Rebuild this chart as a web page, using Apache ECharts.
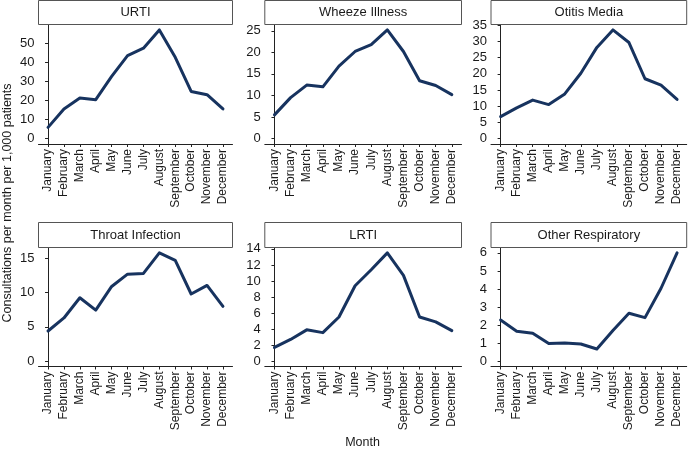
<!DOCTYPE html>
<html>
<head>
<meta charset="utf-8">
<script src="https://cdn.jsdelivr.net/npm/echarts@6/dist/echarts.min.js"></script>
<style>html,body{margin:0;padding:0;background:#fff}#c{width:688px;height:453px}</style>
</head>
<body>
<div id="c"></div>
<script>
var months = ["January","February","March","April","May","June","July","August","September","October","November","December"];
var panelTitles = ["URTI","Wheeze Illness","Otitis Media","Throat Infection","LRTI","Other Respiratory"];
var urti = [5.9,15.6,21.3,20.5,32.7,43.7,47.6,57.2,42.8,24.8,23.1,15.6];
var wheeze = [5.5,9.5,12.4,12.0,16.8,20.2,21.8,25.2,20.2,13.4,12.3,10.2];
var otitis = [6.8,9.5,11.9,10.5,13.8,20.2,28.2,33.6,29.7,18.5,16.5,12.1];
var throat = [4.4,6.3,9.25,7.45,10.9,12.7,12.8,15.8,14.7,9.8,11.05,8.0];
var lrti = [1.7,2.7,3.9,3.55,5.5,9.4,11.4,13.5,10.7,5.5,4.9,3.8];
var other = [2.28,1.66,1.55,0.97,1.0,0.95,0.67,1.7,2.65,2.41,4.04,6.0];
var yTicks = [
  [0,10,20,30,40,50],
  [0,5,10,15,20,25],
  [0,5,10,15,20,25,30,35],
  [0,5,10,15],
  [0,2,4,6,8,10,12,14],
  [0,1,2,3,4,5,6]
];
var seriesData = [urti, wheeze, otitis, throat, lrti, other];

var FONT = "Liberation Sans, Arial, sans-serif";
var TXT = "#1a1a1a";
var LINE = "#17335f";
var AX = "#222222";

var cols = [[38.5,232.5],[264.8,461.5],[491,686.7]];
var rows = [{stripTop:0.5, top:24.5, bottom:144},{stripTop:222.5, top:247.5, bottom:366.5}];

var grids=[], xAxes=[], yAxes=[], series=[], graphics=[];
for (var i=0;i<6;i++){
  var c = cols[i%3], r = rows[Math.floor(i/3)];
  grids.push({left:c[0], top:r.top, width:c[1]-c[0], height:r.bottom-r.top, containLabel:false});
  var idx = months.map(function(m,k){return k;});
  xAxes.push({
    gridIndex:i, type:'value', min:-0.6, max:11.6,
    axisLine:{show:true, onZero:false, lineStyle:{color:AX, width:1}},
    axisTick:{show:true, length:3, customValues:idx, lineStyle:{color:AX}},
    axisLabel:{show:true, rotate:90, margin:5, fontSize:12, color:TXT, fontFamily:FONT,
      customValues:idx, formatter:function(v){return months[Math.round(v)];}},
    splitLine:{show:false}
  });
  var d = seriesData[i];
  var mx = Math.max.apply(null,d);
  yAxes.push({
    gridIndex:i, type:'value', min:-0.05*mx, max:1.05*mx,
    axisLine:{show:true, lineStyle:{color:AX, width:1}},
    axisTick:{show:true, length:3, customValues:yTicks[i], lineStyle:{color:AX}},
    axisLabel:{show:true, margin:4, fontSize:13, color:TXT, fontFamily:FONT, customValues:yTicks[i]},
    splitLine:{show:false}
  });
  series.push({
    type:'line', xAxisIndex:i, yAxisIndex:i,
    data:d.map(function(v,k){return [k,v];}),
    showSymbol:false, symbol:'none',
    lineStyle:{color:LINE, width:3, join:'round', cap:'round'},
    silent:true, animation:false
  });
  graphics.push({
    type:'rect', shape:{x:c[0], y:r.stripTop, width:c[1]-c[0], height:r.top-r.stripTop},
    style:{fill:'#ffffff', stroke:'#555555', lineWidth:1}, z:10
  });
  graphics.push({
    type:'text', x:(c[0]+c[1])/2, y:(r.stripTop+r.top)/2,
    style:{text:panelTitles[i], fill:TXT, font:'13px '+FONT, align:'center', verticalAlign:'middle'}, z:11
  });
}
graphics.push({
  type:'text', x:8, y:203, rotation:Math.PI/2,
  style:{text:'Consultations per month per 1,000 patients', fill:TXT, font:'12.5px '+FONT, align:'center', verticalAlign:'middle'}
});
graphics.push({
  type:'text', x:362.5, y:443,
  style:{text:'Month', fill:TXT, font:'12.5px '+FONT, align:'center', verticalAlign:'middle'}
});

var chart = echarts.init(document.getElementById('c'), null, {renderer:'canvas'});
chart.setOption({
  animation:false,
  backgroundColor:'#ffffff',
  grid:grids, xAxis:xAxes, yAxis:yAxes, series:series, graphic:graphics
});
</script>
</body>
</html>
